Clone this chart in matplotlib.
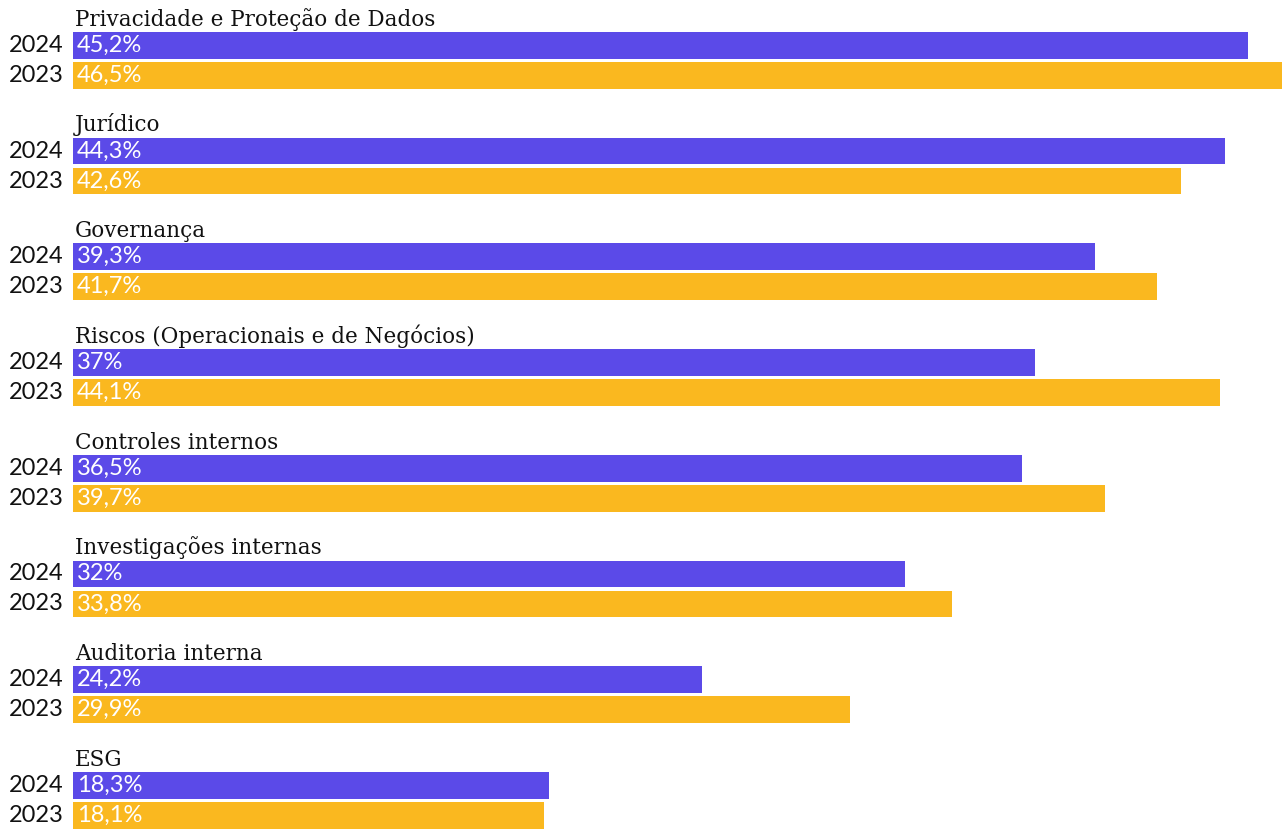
import matplotlib.pyplot as plt

# ── Data ─────────────────────────────────────────────────────────
categories = [
    'Privacidade e Proteção de Dados',
    'Jurídico',
    'Governança',
    'Riscos (Operacionais e de Negócios)',
    'Controles internos',
    'Investigações internas',
    'Auditoria interna',
    'ESG',
]
values_2024 = [45.2, 44.3, 39.3, 37, 36.5, 32, 24.2, 18.3]
values_2023 = [46.5, 42.6, 41.7, 44.1, 39.7, 33.8, 29.9, 18.1]
years = ['2024', '2023']

# ── Style ────────────────────────────────────────────────────────
purple = '#5B4AE8'
yellow = '#FAB81F'
W, H = 1282, 831
left_px = 73
pitch = 105.7      # px between groups
first_top = 32     # px, top of first bar
bar_h = 26.7
gap = 3.3

fig = plt.figure(figsize=(W / 100, H / 100), dpi=100)
ax = fig.add_axes([left_px / W, 0, (W - left_px) / W, 1])
ax.set_xlim(0, max(values_2023 + values_2024))
ax.set_ylim(H, 0)
ax.axis('off')


def fmt(v):
    return f'{v:g}'.replace('.', ',') + '%'


for i, cat in enumerate(categories):
    top = first_top + pitch * i
    y24 = top + bar_h / 2
    y23 = top + bar_h + gap + bar_h / 2
    ax.barh(y24, values_2024[i], height=bar_h, color=purple, left=0)
    ax.barh(y23, values_2023[i], height=bar_h, color=yellow, left=0)

    # category title above the pair
    ax.annotate(cat, (0, top), xytext=(1.5, 4.5), textcoords='offset points',
                ha='left', va='baseline', fontsize=15.5, color='#111111',
                family='DejaVu Serif')

    for y, yr, v in [(y24, years[0], values_2024[i]), (y23, years[1], values_2023[i])]:
        ax.annotate(yr, (0, y), xytext=(-6.5, 0), textcoords='offset points',
                    ha='right', va='center', fontsize=17, color='#111111',
                    family='Lato')
        ax.annotate(fmt(v), (0, y), xytext=(3, 0), textcoords='offset points',
                    ha='left', va='center', fontsize=17, color='white',
                    family='Lato')

fig.savefig('out.png', dpi=100)
